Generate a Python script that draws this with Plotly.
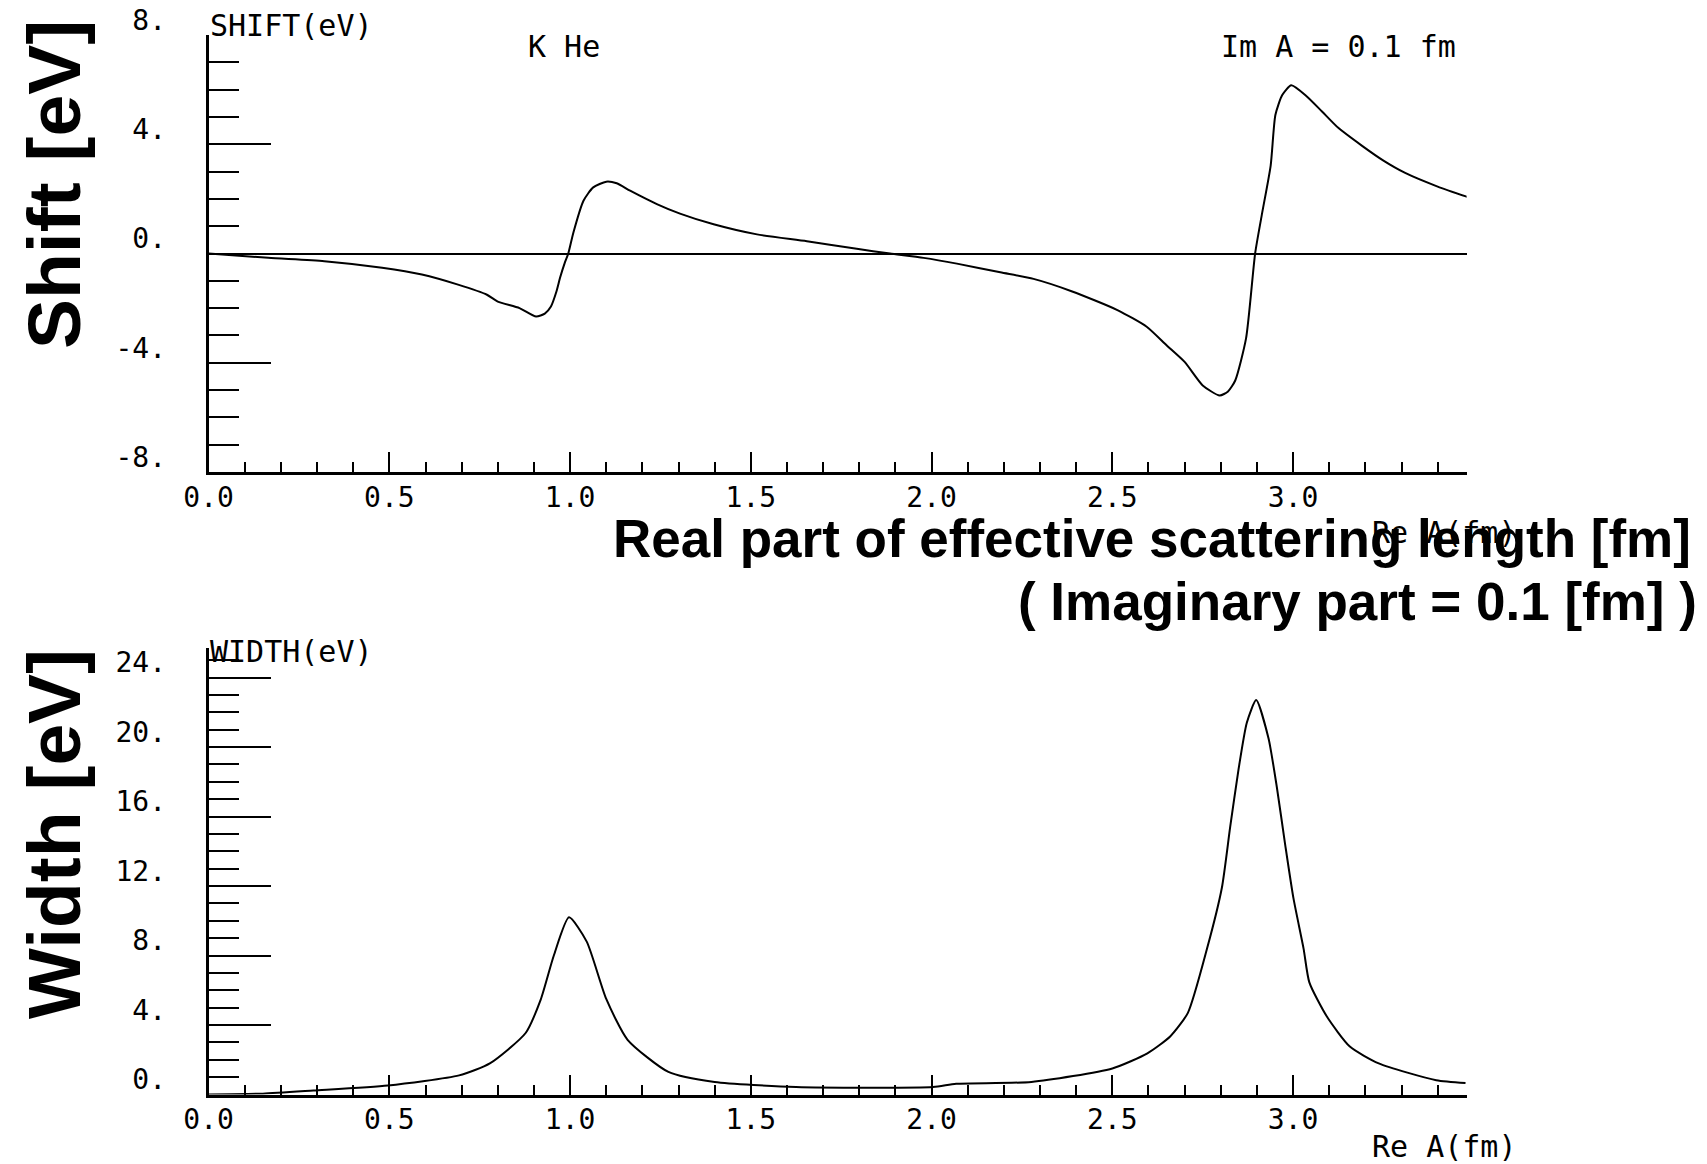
import plotly.graph_objects as go

# ---- data ----
shift_x = [0.0, 0.165, 0.32, 0.48, 0.59, 0.69, 0.77, 0.80, 0.86, 0.906, 0.93, 0.947, 0.962, 0.972,
           0.985, 0.995, 1.009, 1.037, 1.064, 1.10, 1.129, 1.166, 1.24, 1.304, 1.397, 1.517, 1.655,
           1.793, 1.885, 1.978, 2.07, 2.19, 2.282, 2.389, 2.514, 2.595, 2.65, 2.70, 2.75, 2.797,
           2.82, 2.84, 2.87, 2.895, 2.913, 2.938, 2.951, 2.97, 2.995, 3.038, 3.08, 3.125, 3.19,
           3.25, 3.31, 3.40, 3.487]
shift_y = [0.0, -0.16, -0.28, -0.52, -0.77, -1.14, -1.51, -1.76, -2.0, -2.31, -2.2, -1.94, -1.4, -0.9,
           -0.35, 0.0, 0.76, 1.93, 2.42, 2.63, 2.57, 2.3, 1.81, 1.46, 1.07, 0.70, 0.45,
           0.17, 0.0, -0.16, -0.37, -0.69, -0.93, -1.39, -2.07, -2.68, -3.36, -3.97, -4.83, -5.2,
           -5.05, -4.65, -3.1, 0.0, 1.38, 3.22, 5.07, 5.8, 6.16, 5.75, 5.2, 4.6, 3.95,
           3.4, 2.95, 2.45, 2.05]

width_x = [0.0, 0.15, 0.29, 0.496, 0.693, 0.778, 0.877, 0.919, 0.955, 0.997, 1.046, 1.10, 1.159,
           1.272, 1.40, 1.625, 2.004, 2.068, 2.276, 2.50, 2.597, 2.66, 2.709, 2.762, 2.803, 2.826,
           2.849, 2.872, 2.898, 2.932, 2.955, 2.978, 3.001, 3.029, 3.045, 3.093, 3.157, 3.237,
           3.396, 3.477]
width_y = [0.0, 0.05, 0.23, 0.52, 1.1, 1.79, 3.54, 5.48, 8.0, 10.2, 8.8, 5.5, 3.15,
           1.3, 0.72, 0.43, 0.43, 0.62, 0.72, 1.5, 2.37, 3.34, 4.7, 8.4, 11.9, 15.4,
           18.7, 21.4, 22.7, 20.5, 17.7, 14.4, 11.3, 8.4, 6.45, 4.5, 2.76, 1.79,
           0.82, 0.66]

x_range = [0.0, 3.48]
x_tickvals = [0.0, 0.5, 1.0, 1.5, 2.0, 2.5, 3.0]
x_ticktext = ["0.0", "0.5", "1.0", "1.5", "2.0", "2.5", "3.0"]
shift_range = [-8, 8]
shift_tickvals = [-8, -4, 0, 4, 8]
shift_ticktext = ["-8.", "-4.", "0.", "4.", "8."]
width_range = [0, 25.7]
width_tickvals = [0, 4, 8, 12, 16, 20, 24]
width_ticktext = ["0.", "4.", "8.", "12.", "16.", "20.", "24."]

W, H = 1707, 1164
def px(X):
    return X / W
def py(Y):
    return 1 - Y / H

MONO = "DejaVu Sans Mono"
SANS = "Liberation Sans"

fig = go.Figure()
fig.add_trace(go.Scatter(x=shift_x, y=shift_y, mode="lines",
                         line=dict(color="black", width=2, shape="spline", smoothing=0.6),
                         xaxis="x", yaxis="y", showlegend=False))
fig.add_trace(go.Scatter(x=width_x, y=width_y, mode="lines",
                         line=dict(color="black", width=2, shape="spline", smoothing=0.6),
                         xaxis="x2", yaxis="y2", showlegend=False))

xdom = [px(208.6), px(1466.6)]

def xaxis_cfg(anchor):
    return dict(domain=xdom, range=x_range, anchor=anchor, showgrid=False, zeroline=False,
                automargin=False,
                showline=True, linecolor="black", linewidth=3,
                ticks="inside", ticklen=20, tickwidth=2, tickcolor="black",
                tickvals=x_tickvals, ticktext=x_ticktext,
                tickfont=dict(family=MONO, size=28, color="black"), ticklabelstandoff=-2,
                minor=dict(dtick=0.1, ticks="inside", ticklen=10, tickwidth=2, tickcolor="black",
                           showgrid=False))

def yaxis_cfg(anchor, dom, rng, tv, tt, zl):
    return dict(domain=dom, range=rng, anchor=anchor, showgrid=False, zeroline=zl,
                automargin=False,
                zerolinecolor="black", zerolinewidth=2,
                showline=True, linecolor="black", linewidth=3,
                ticks="inside", ticklen=62, tickwidth=2, tickcolor="black",
                tickvals=tv, ticktext=tt,
                tickfont=dict(family=MONO, size=28, color="black"),
                ticklabelstandoff=34, ticklabelshift=-15,
                minor=dict(dtick=1, ticks="inside", ticklen=30, tickwidth=2, tickcolor="black",
                           showgrid=False))

annotations = [
    dict(text="SHIFT(eV)", x=px(208), y=py(25), xanchor="left", yanchor="middle",
         font=dict(family=MONO, size=30)),
    dict(text="K He", x=px(526), y=py(47), xanchor="left", yanchor="middle",
         font=dict(family=MONO, size=30)),
    dict(text="Im A = 0.1 fm", x=px(1219), y=py(47), xanchor="left", yanchor="middle",
         font=dict(family=MONO, size=30)),
    dict(text="Re A(fm)", x=px(1370), y=py(533), xanchor="left", yanchor="middle",
         font=dict(family=MONO, size=30)),
    dict(text="WIDTH(eV)", x=px(208), y=py(651), xanchor="left", yanchor="middle",
         font=dict(family=MONO, size=30)),
    dict(text="Re A(fm)", x=px(1370), y=py(1146), xanchor="left", yanchor="middle",
         font=dict(family=MONO, size=30)),
    dict(text="<b>Shift [eV]</b>", x=px(54), y=py(185), xanchor="center", yanchor="middle",
         textangle=-90, font=dict(family=SANS, size=75)),
    dict(text="<b>Width [eV]</b>", x=px(54), y=py(834), xanchor="center", yanchor="middle",
         textangle=-90, font=dict(family=SANS, size=75)),
    dict(text="<b>Real part of effective scattering length [fm]</b>", x=px(1693), y=py(538),
         xanchor="right", yanchor="middle", font=dict(family=SANS, size=53)),
    dict(text="<b>( Imaginary part = 0.1 [fm] )</b>", x=px(1699), y=py(601),
         xanchor="right", yanchor="middle", font=dict(family=SANS, size=53)),
]
for a in annotations:
    a.update(xref="paper", yref="paper", showarrow=False)
    a["font"]["color"] = "black"

fig.update_layout(
    width=W, height=H, autosize=False,
    margin=dict(l=0, r=0, t=0, b=0, autoexpand=False),
    paper_bgcolor="white", plot_bgcolor="white",
    xaxis=xaxis_cfg("y"),
    yaxis=yaxis_cfg("x", [py(472), py(35)], shift_range, shift_tickvals, shift_ticktext, True),
    xaxis2=xaxis_cfg("y2"),
    yaxis2=yaxis_cfg("x2", [py(1094.5), py(648)], width_range, width_tickvals, width_ticktext, False),
    annotations=annotations,
    showlegend=False,
)

fig.write_html("out.html", config={"displayModeBar": False},
               post_script="document.body.style.margin='0';document.documentElement.style.overflow='hidden';")
